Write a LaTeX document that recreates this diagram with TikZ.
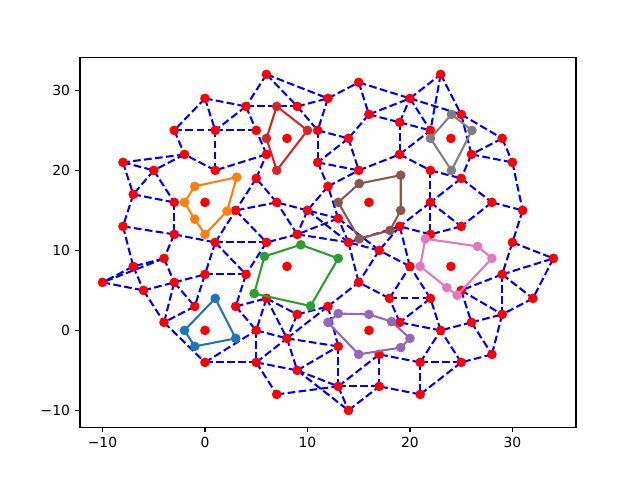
\documentclass[tikz,border=0pt]{standalone}
\usepackage{fontspec}
\newfontfamily\dejavu{DejaVu Sans}
\definecolor{c0}{HTML}{1F77B4}
\definecolor{c1}{HTML}{FF7F0E}
\definecolor{c2}{HTML}{2CA02C}
\definecolor{c3}{HTML}{D62728}
\definecolor{c4}{HTML}{9467BD}
\definecolor{c5}{HTML}{8C564B}
\definecolor{c6}{HTML}{E377C2}
\definecolor{c7}{HTML}{7F7F7F}
\begin{document}
\begin{tikzpicture}[x=10.248pt,y=8pt,
  edge/.style={draw=blue, line width=2.08pt, dash pattern=on 7.7pt off 3.33pt},
  rdot/.style={circle, fill=red, inner sep=0pt, minimum size=9.7pt},
  poly/.style={line width=2.08pt, line join=round},
  vdot/.style={circle, inner sep=0pt, minimum size=9.7pt},
  ticklab/.style={font=\dejavu\fontsize{13.9}{16}\selectfont, inner sep=0pt},
  frame/.style={line width=1.11pt}]
\useasboundingbox (-20.004,-18.7) rectangle (42.449,41.3);
% points
\foreach \x/\y/\n in {6/32/p6y32, 15/31/p15y31, 23/32/p23y32,
0/29/p0y29, 12/29/p12y29, 20/29/p20y29, 4/28/p4y28, 9/28/p9y28,
16/27/p16y27, 25/27/p25y27, 19/26/p19y26,
-3/25/pm3y25, 1/25/p1y25, 5/25/p5y25, 11/25/p11y25, 22/25/p22y25,
8/24/p8y24, 14/24/p14y24, 24/24/p24y24, 29/24/p29y24,
-2/22/pm2y22, 6/22/p6y22, 19/22/p19y22, 26/22/p26y22,
-8/21/pm8y21, 11/21/p11y21, 30/21/p30y21,
-5/20/pm5y20, 1/20/p1y20, 15/20/p15y20, 22/20/p22y20,
5/19/p5y19, 25/19/p25y19, 12/18/p12y18, -7/17/pm7y17,
-3/16/pm3y16, 0/16/p0y16, 7/16/p7y16, 16/16/p16y16, 22/16/p22y16, 28/16/p28y16,
3/15/p3y15, 10/15/p10y15, 31/15/p31y15, 13/14/p13y14,
-8/13/pm8y13, 19/13/p19y13, 25/13/p25y13,
-3/12/pm3y12, 9/12/p9y12, 22/12/p22y12,
1/11/p1y11, 6/11/p6y11, 14/11/p14y11, 30/11/p30y11, 17/10/p17y10,
-4/9/pm4y9, 34/9/p34y9,
-7/8/pm7y8, 8/8/p8y8, 20/8/p20y8, 24/8/p24y8,
0/7/p0y7, 4/7/p4y7, 29/7/p29y7,
-10/6/pm10y6, -3/6/pm3y6, 15/6/p15y6, -6/5/pm6y5, 25/5/p25y5,
6/4/p6y4, 18/4/p18y4, 22/4/p22y4, 32/4/p32y4,
-1/3/pm1y3, 3/3/p3y3, 12/3/p12y3, 9/2/p9y2, 29/2/p29y2,
-4/1/pm4y1, 19/1/p19y1, 26/1/p26y1,
0/0/p0y0, 5/0/p5y0, 16/0/p16y0, 23/0/p23y0,
8/-1/p8ym1, 13/-2/p13ym2, 17/-3/p17ym3, 28/-3/p28ym3,
0/-4/p0ym4, 5/-4/p5ym4, 21/-4/p21ym4, 25/-4/p25ym4,
9/-5/p9ym5, 13/-7/p13ym7, 17/-7/p17ym7, 7/-8/p7ym8, 21/-8/p21ym8, 14/-10/p14ym10}
  \coordinate (\n) at (\x,\y);
% dashed edges
\foreach \a/\b in {p6y32/p4y28, p6y32/p9y28, p6y32/p12y29, p0y29/p4y28, p0y29/pm3y25, p0y29/p1y25,
p4y28/p1y25, p4y28/p9y28, p4y28/p5y25, p9y28/p12y29, p9y28/p11y25, p12y29/p11y25, p12y29/p15y31,
p15y31/p16y27, p15y31/p20y29, p16y27/p20y29, p16y27/p19y26, p16y27/p14y24, p11y25/p14y24,
p11y25/p11y21, p14y24/p11y21, p14y24/p15y20, p11y21/p15y20, p11y21/p12y18, p12y18/p15y20,
p15y20/p19y22, p19y26/p19y22, p19y26/p20y29, p19y26/p22y25, p19y22/p22y25, p19y22/p22y20,
p20y29/p22y25, p20y29/p23y32, p20y29/p25y27, p23y32/p22y25, p23y32/p25y27, p25y27/p29y24,
p25y27/p26y22, p29y24/p26y22, p29y24/p30y21, p26y22/p30y21, p26y22/p25y19, p30y21/p31y15,
p22y20/p25y19, p22y20/p22y16, p25y19/p22y16, p25y19/p28y16, p28y16/p31y15, p28y16/p25y13,
p22y16/p25y13, p22y16/p22y12, p22y16/p19y13, p25y13/p22y12, p22y12/p19y13, p31y15/p30y11,
p30y11/p34y9, p30y11/p29y7, p29y7/p34y9, p29y7/p25y5, p29y7/p32y4, p29y7/p29y2, p34y9/p32y4,
p32y4/p29y2, p25y5/p29y2, p25y5/p26y1, p26y1/p29y2, p26y1/p28ym3, p26y1/p23y0, p29y2/p28ym3,
p28ym3/p25ym4, p25ym4/p23y0, p25ym4/p21ym4, p25ym4/p21ym8, p21ym4/p21ym8, p21ym4/p17ym3,
p21ym4/p23y0,
p21ym8/p17ym7, p23y0/p22y4, p23y0/p19y1, p22y4/p19y1, p22y4/p18y4, p22y4/p20y8, p19y1/p18y4,
p18y4/p20y8, p18y4/p15y6, p20y8/p17y10, p20y8/p19y13, p19y13/p17y10, p19y13/p14y11,
p17y10/p14y11, p17y10/p13y14, p17y10/p15y6, p14y11/p15y6, p14y11/p13y14, p14y11/p10y15,
p14y11/p9y12, p13y14/p12y18, p13y14/p10y15, p13y14/p9y12, p12y18/p10y15, p10y15/p7y16,
p10y15/p9y12, p9y12/p7y16, p9y12/p6y11, p7y16/p3y15, p7y16/p5y19, p5y19/p6y22, p5y19/p3y15,
p6y22/p5y25, p6y22/p1y20, p1y20/p1y25, p1y20/pm2y22, p1y25/pm3y25, p1y25/p5y25, pm3y25/pm2y22,
pm2y22/pm8y21, pm2y22/pm5y20, pm8y21/pm5y20, pm8y21/pm7y17, pm5y20/pm7y17, pm5y20/pm3y16,
pm7y17/pm3y16, pm7y17/pm8y13, pm3y16/pm3y12, pm8y13/pm3y12, pm8y13/pm7y8, pm3y12/p1y11,
pm3y12/pm4y9, p1y11/p6y11, p1y11/p3y15, p1y11/p0y7, p1y11/p4y7, p3y15/p6y11, p6y11/p4y7,
pm4y9/pm7y8, pm4y9/pm10y6, pm4y9/pm3y6, pm7y8/pm10y6, pm7y8/pm6y5, pm10y6/pm6y5, pm6y5/pm3y6,
pm6y5/pm4y1, pm3y6/p0y7, pm3y6/pm1y3, pm3y6/pm4y1, p0y7/p4y7, p0y7/pm1y3, p4y7/p3y3,
pm1y3/pm4y1, pm4y1/p0ym4, p0ym4/p5ym4, p0ym4/p5y0, p3y3/p5y0, p3y3/p6y4, p6y4/p5y0,
p6y4/p8ym1, p6y4/p9y2, p9y2/p8ym1, p9y2/p12y3, p12y3/p8ym1, p12y3/p15y6, p12y3/p13ym2,
p5y0/p8ym1, p5y0/p5ym4, p5ym4/p8ym1, p5ym4/p9ym5, p5ym4/p7ym8, p8ym1/p9ym5, p8ym1/p13ym2,
p9ym5/p13ym2, p9ym5/p13ym7, p9ym5/p14ym10, p7ym8/p13ym7, p13ym2/p13ym7, p13ym7/p14ym10,
p13ym7/p17ym7, p13ym7/p17ym3, p14ym10/p17ym7, p17ym7/p17ym3}
  \draw[edge] (\a) -- (\b);
% red points
\foreach \n in {p6y32, p15y31, p23y32, p0y29, p12y29, p20y29, p4y28, p9y28, p16y27, p25y27, p19y26,
pm3y25, p1y25, p5y25, p11y25, p22y25, p8y24, p14y24, p24y24, p29y24, pm2y22, p6y22, p19y22, p26y22,
pm8y21, p11y21, p30y21, pm5y20, p1y20, p15y20, p22y20, p5y19, p25y19, p12y18, pm7y17,
pm3y16, p0y16, p7y16, p16y16, p22y16, p28y16, p3y15, p10y15, p31y15, p13y14,
pm8y13, p19y13, p25y13, pm3y12, p9y12, p22y12, p1y11, p6y11, p14y11, p30y11, p17y10,
pm4y9, p34y9, pm7y8, p8y8, p20y8, p24y8, p0y7, p4y7, p29y7, pm10y6, pm3y6, p15y6, pm6y5, p25y5,
p6y4, p18y4, p22y4, p32y4, pm1y3, p3y3, p12y3, p9y2, p29y2, pm4y1, p19y1, p26y1,
p0y0, p5y0, p16y0, p23y0, p8ym1, p13ym2, p17ym3, p28ym3, p0ym4, p5ym4, p21ym4, p25ym4,
p9ym5, p13ym7, p17ym7, p7ym8, p21ym8, p14ym10}
  \node[rdot] (d\n) at (\n) {};
% coloured polygons: vertex coordinates
\coordinate (a1) at (-2,0); \coordinate (a2) at (1,4); \coordinate (a3) at (3,-1); \coordinate (a4) at (-1,-2);
\coordinate (b1) at (-2,16); \coordinate (b2) at (-1,18); \coordinate (b3) at (3.1,19.15);
\coordinate (b4) at (2.15,14.9); \coordinate (b5) at (0,12); \coordinate (b6) at (-1,13.9);
\coordinate (g1) at (5.8,9.25); \coordinate (g2) at (9.35,10.7); \coordinate (g3) at (13,9);
\coordinate (g4) at (10.3,3.05); \coordinate (g5) at (4.8,4.6);
\coordinate (r1) at (7,28); \coordinate (r2) at (10,25); \coordinate (r3) at (7,20); \coordinate (r4) at (6,24);
\coordinate (u1) at (12,1); \coordinate (u2) at (13,2.1); \coordinate (u3) at (16,2); \coordinate (u4) at (18.2,1.1);
\coordinate (u5) at (20,-1); \coordinate (u6) at (19.1,-2.15); \coordinate (u7) at (15,-3);
\coordinate (w1) at (13,16); \coordinate (w2) at (15.05,18.35); \coordinate (w3) at (19.1,19.4);
\coordinate (w4) at (19.1,15); \coordinate (w5) at (18.05,12.5); \coordinate (w6) at (15.05,11.45);
\coordinate (k1) at (21.5,11.45); \coordinate (k2) at (26.6,10.5); \coordinate (k3) at (28,9);
\coordinate (k4) at (24.6,4.4); \coordinate (k5) at (23.6,5.35); \coordinate (k6) at (21,8);
\coordinate (y1) at (22,24); \coordinate (y2) at (24.05,27); \coordinate (y3) at (26.05,25); \coordinate (y4) at (24.05,20);
\draw[poly, draw=c0] (a1) -- (a2) -- (a3) -- (a4) -- cycle;
\foreach \i in {1,...,4} \node[vdot, fill=c0] (ma\i) at (a\i) {};
\draw[poly, draw=c1] (b1) -- (b2) -- (b3) -- (b4) -- (b5) -- (b6) -- cycle;
\foreach \i in {1,...,6} \node[vdot, fill=c1] (mb\i) at (b\i) {};
\draw[poly, draw=c2] (g1) -- (g2) -- (g3) -- (g4) -- (g5) -- cycle;
\foreach \i in {1,...,5} \node[vdot, fill=c2] (mg\i) at (g\i) {};
\draw[poly, draw=c3] (r1) -- (r2) -- (r3) -- (r4) -- cycle;
\foreach \i in {1,...,4} \node[vdot, fill=c3] (mr\i) at (r\i) {};
\draw[poly, draw=c4] (u1) -- (u2) -- (u3) -- (u4) -- (u5) -- (u6) -- (u7) -- cycle;
\foreach \i in {1,...,7} \node[vdot, fill=c4] (mu\i) at (u\i) {};
\draw[poly, draw=c5] (w1) -- (w2) -- (w3) -- (w4) -- (w5) -- (w6) -- cycle;
\foreach \i in {1,...,6} \node[vdot, fill=c5] (mw\i) at (w\i) {};
\draw[poly, draw=c6] (k1) -- (k2) -- (k3) -- (k4) -- (k5) -- (k6) -- cycle;
\foreach \i in {1,...,6} \node[vdot, fill=c6] (mk\i) at (k\i) {};
\draw[poly, draw=c7] (y1) -- (y2) -- (y3) -- (y4) -- cycle;
\foreach \i in {1,...,4} \node[vdot, fill=c7] (my\i) at (y\i) {};
% axes frame and ticks
\draw[frame] (-12.2,-12.1) rectangle (36.2,34.1);
\foreach \t/\l in {-10/{−10}, 0/0, 10/10, 20/20, 30/30} {
  \draw[frame] (\t,-12.1) -- ++(0,-4.86pt);
  \node[ticklab, anchor=north] (xl\t) at ([yshift=-9.72pt]\t,-12.1) {\l};
  \draw[frame] (-12.2,\t) -- ++(-4.86pt,0);
  \node[ticklab, anchor=east] (yl\t) at ([xshift=-9.72pt]-12.2,\t) {\l};
}
\end{tikzpicture}
\end{document}
